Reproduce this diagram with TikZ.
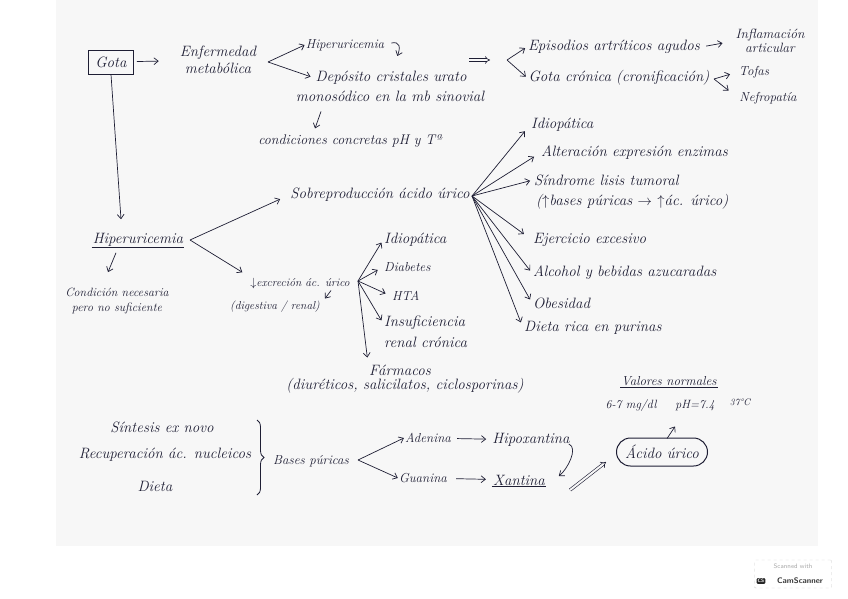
\documentclass[tikz,border=0pt]{standalone}
\usepackage{tikz}
\usetikzlibrary{arrows.meta,positioning,calc,decorations.pathreplacing}
\definecolor{ink}{RGB}{30,30,52}
\definecolor{paper}{RGB}{247,247,247}

\begin{document}
\begin{tikzpicture}[
  x=1pt,y=-1pt,
  txt/.style={text=ink, font=\fontsize{15}{17}\selectfont\itshape, inner sep=1pt, align=center},
  slim/.style={txt, font=\fontsize{13}{15}\selectfont\itshape},
  note/.style={txt, font=\fontsize{12}{14.5}\selectfont\itshape},
  tiny/.style={txt, font=\fontsize{11.5}{13}\selectfont\itshape},
  gbox/.style={txt, draw=ink, line width=0.8pt, minimum width=45pt, minimum height=24pt},
  oval/.style={txt, draw=ink, line width=1pt, rounded corners=14pt, minimum width=91pt, minimum height=28pt},
  edge/.style={-{Straight Barb[length=1.5mm,width=2.4mm]}, draw=ink, line width=0.7pt},
  dbl/.style={-{Implies}, draw=ink, double=paper, double distance=2pt, line width=0.6pt},
  uline/.style={draw=ink, line width=0.6pt}
]
  \useasboundingbox (0,0) rectangle (848,599);
  \fill[paper] (56,0) rectangle (818,546);

  % top row
  \node[gbox] (gota) at (111,62) {Gota};
  \node[txt] (enf) at (218,60) {Enfermedad\\metabólica};
  \node[slim] (hipA) at (345,45) {Hiperuricemia};
  \node[txt] (dep) at (391,78) {Depósito cristales urato};
  \node[txt] (dep2) at (390,96) {monosódico en la mb sinovial};
  \node[txt, font=\fontsize{14}{16}\selectfont\itshape] (cond) at (350,141) {condiciones concretas pH y Tª};
  \node[txt] (epi) at (614,47) {Episodios artríticos agudos};
  \node[txt, font=\fontsize{13.5}{14}\selectfont\itshape] (infl) at (770,41) {Inflamación\\articular};
  \node[txt] (cron) at (619,78) {Gota crónica (cronificación)};
  \node[slim] (tofas) at (754,72) {Tofas};
  \node[slim] (nefro) at (768,98) {Nefropatía};

  \coordinate (v1) at (268,62);
  \coordinate (v2) at (507,60);
  \coordinate (v3) at (714,79);
  \draw[edge, shorten <=3pt, shorten >=20pt] (gota) -- (enf);
  \draw[edge] (v1) -- (hipA.west);
  \draw[edge, shorten >=4pt] (v1) -- (dep.west);
  \draw[edge] ($(hipA.east)+(6,-2)$) .. controls +(9,-2) and +(3,-8) .. ($(hipA.east)+(12,11)$);
  \draw[edge] ($(dep2.south)+(-69,9)$) -- ($(cond.north)+(-35,-5)$);
  \draw[dbl] ($(v2)+(-38,0)$) -- ($(v2)+(-17,0)$);
  \draw[edge, shorten >=2pt] (v2) -- (epi.west);
  \draw[edge, shorten >=2pt] (v2) -- (cron.west);
  \draw[edge, shorten <=5pt, shorten >=12pt] (epi.east) -- (infl.west);
  \draw[edge, shorten >=8pt] (v3) -- (tofas.west);
  \draw[edge, shorten >=12pt] (v3) -- (nefro.west);

  % middle
  \node[txt] (hipB) at (138,240) {Hiperuricemia};
  \draw[uline] (hipB.south west) -- (hipB.south east);
  \node[note] (condn) at (117,301) {Condición necesaria\\pero no suficiente};
  \draw[edge] (gota.south) -- ($(hipB.north)+(-17,-13)$);
  \draw[edge] ($(hipB.south)+(-22,5)$) -- ($(condn.north)+(-9,-15)$);

  \node[txt] (sobre) at (380,195) {Sobreproducción ácido úrico};
  \node[tiny] (exc) at (300,283) {$\downarrow$excreción ác. úrico};
  \node[tiny] (dig) at (275,307) {(digestiva / renal)};
  \coordinate (v4) at (190,240);
  \draw[edge, shorten >=10pt] (v4) -- (sobre.west);
  \draw[edge, shorten >=8pt] (v4) -- (exc.north west);
  \draw[edge] ($(exc.south)+(31,1)$) -- ($(exc.south)+(25,9)$);

  \coordinate (v5) at (472,196);
  \node[txt, anchor=west] (id1) at (530,125) {Idiopática};
  \node[txt, anchor=west] (alt) at (540,153) {Alteración expresión enzimas};
  \node[txt, anchor=west] (sind) at (533,180) {Síndrome lisis tumoral};
  \node[txt, anchor=west] (sind2) at (535,202) {($\uparrow$bases púricas $\rightarrow$ $\uparrow$ác. úrico)};
  \node[txt, anchor=west] (ejer) at (532,240) {Ejercicio excesivo};
  \node[txt, anchor=west] (alco) at (532,273) {Alcohol y bebidas azucaradas};
  \node[txt, anchor=west] (obes) at (532,303) {Obesidad};
  \node[txt, anchor=west] (dieta) at (523,328) {Dieta rica en purinas};
  \foreach \n/\s in {id1/8pt, alt/7pt, sind/3pt, ejer/10pt, alco/3pt, obes/4pt, dieta/6pt}
    \draw[edge, shorten >=\s] (v5) -- (\n.west);

  \coordinate (v6) at (358,281);
  \node[txt, anchor=west] (id2) at (383,240) {Idiopática};
  \node[slim, anchor=west] (diab) at (383,267) {Diabetes};
  \node[slim, anchor=west] (hta) at (391,296) {HTA};
  \node[txt, anchor=west] (insu) at (383,323) {Insuficiencia};
  \node[txt, anchor=west] (insu2) at (383,342) {renal crónica};
  \node[txt] (farm) at (400,370) {Fármacos};
  \node[txt] (farm2) at (405,386) {(diuréticos, salicilatos, ciclosporinas)};
  \foreach \n/\s in {id2.west/3pt, diab.west/6pt, hta.west/6pt, insu.west/3pt, farm.north west/6pt}
    \draw[edge, shorten >=\s] (v6) -- (\n);

  % bottom
  \node[txt] (sint) at (162,427) {Síntesis ex novo};
  \node[txt] (recu) at (165,455) {Recuperación ác. nucleicos};
  \node[txt] (diet2) at (155,486) {Dieta};
  \draw[decorate, decoration={brace, amplitude=7pt}, draw=ink, line width=0.8pt] (257,420) -- (257,495);
  \node[slim] (bases) at (311,461) {Bases púricas};
  \coordinate (v7) at (358,460);
  \node[slim] (ade) at (428,438) {Adenina};
  \node[txt] (hipo) at (531,440) {Hipoxantina};
  \node[slim] (gua) at (423,478) {Guanina};
  \node[txt] (xan) at (519,480) {Xantina};
  \draw[uline] (xan.south west) -- (xan.south east);
  \draw[edge] (v7) -- (ade.west);
  \draw[edge] (v7) -- (gua.west);
  \draw[edge, shorten <=5pt, shorten >=5pt] (ade) -- (hipo);
  \draw[edge, shorten <=8pt, shorten >=6pt] (gua) -- (xan);
  \draw[edge] ($(hipo.east)+(-2,4)$) .. controls +(10,4) and +(8,-6) .. ($(hipo.east)+(-12,36)$);

  \node[oval] (acido) at (662,452) {Ácido úrico};
  \draw[dbl] ($(xan.east)+(24,10)$) -- ($(acido.west)+(-10,10)$);
  \draw[edge] ($(acido.north)+(5,1)$) -- ($(acido.north)+(13,-11)$);
  \node[slim] (val) at (669,381) {Valores normales};
  \draw[uline] (val.south west) -- (val.south east);
  \node[note] (mg) at (631,405) {6-7 mg/dl};
  \node[note] (ph) at (695,406) {pH=7.4};
  \node[note, font=\fontsize{9.5}{10}\selectfont\itshape] (temp) at (740,402) {37°C};

  % scanner mark
  \node[draw=gray!40, dashed, rounded corners=1pt, minimum width=77pt, minimum height=28pt] (scan) at (793,574) {};
  \node[text=gray!70, font=\sffamily\fontsize{6.5}{7}\selectfont] (scantxt) at (793,566) {Scanned with};
  \node[text=black!80, font=\sffamily\bfseries\fontsize{8}{9}\selectfont] (camtxt) at (800,581) {CamScanner};
  \node[fill=black!85, text=white, rounded corners=1pt, font=\sffamily\bfseries\fontsize{5}{5}\selectfont, inner sep=1pt] (cslogo) at (761,581) {CS};
\end{tikzpicture}
\end{document}
